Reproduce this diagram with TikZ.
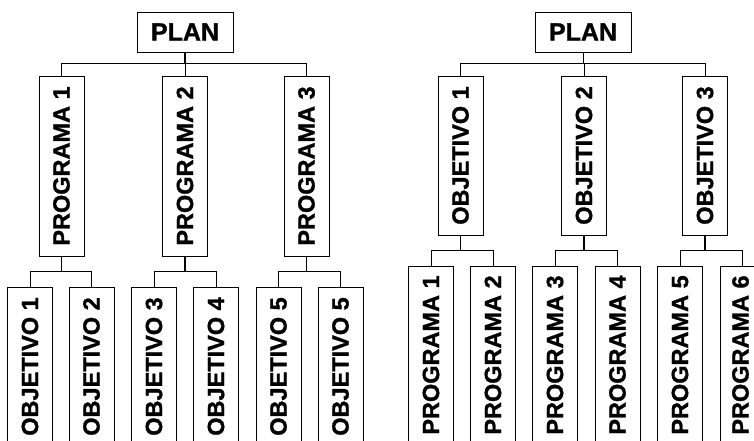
\documentclass[tikz,border=0pt]{standalone}
\usepackage{fontspec}
\setmainfont[BoldFeatures={FakeBold=1.2}]{Liberation Sans}
\begin{document}
\begin{tikzpicture}[x=1pt,y=-1pt,
  box/.style={draw=black,line width=0.8pt,inner sep=0pt,font=\fontsize{23.5}{27}\selectfont\bfseries},
  planbox/.style={box,minimum width=96pt,minimum height=40pt,font=\fontsize{25}{29}\selectfont\bfseries},
  vbox/.style={box,minimum width=45pt},
  wire/.style={line width=0.9pt},
  stem/.style={line width=1.5pt}]
\useasboundingbox (0,0) rectangle (754,441);
\clip (0,0) rectangle (754,441);
% ---------- left tree ----------
\node[planbox] (planL) at (185,32) {PLAN};
\node[vbox,minimum height=180pt] (lp1) at (61.5,166) {\rotatebox{90}{PROGRAMA 1}};
\node[vbox,minimum height=180pt] (lp2) at (185,166) {\rotatebox{90}{PROGRAMA 2}};
\node[vbox,minimum height=180pt] (lp3) at (306.5,166) {\rotatebox{90}{PROGRAMA 3}};
\node[vbox,minimum height=159pt] (lo1) at (30,366.5) {\rotatebox{90}{OBJETIVO 1}};
\node[vbox,minimum height=159pt] (lo2) at (91.5,366.5) {\rotatebox{90}{OBJETIVO 2}};
\node[vbox,minimum height=159pt] (lo3) at (154,366.5) {\rotatebox{90}{OBJETIVO 3}};
\node[vbox,minimum height=159pt] (lo4) at (216,366.5) {\rotatebox{90}{OBJETIVO 4}};
\node[vbox,minimum height=159pt] (lo5) at (278.5,366.5) {\rotatebox{90}{OBJETIVO 5}};
\node[vbox,minimum height=159pt] (lo6) at (340.5,366.5) {\rotatebox{90}{OBJETIVO 5}};
\coordinate (lbus) at (0,63);
\coordinate (lbus2) at (0,271);
\draw[stem] (planL.south) -- (planL.south |- lbus);
\draw[wire] (lp1.north) -- (lp1.north |- lbus) -- (lp3.north |- lbus) -- (lp3.north);
\draw[wire] (lp2.north) -- (lp2.north |- lbus);
\draw[stem] (lp1.south) -- (lp1.south |- lbus2);
\draw[stem] (lp2.south) -- (lp2.south |- lbus2);
\draw[stem] (lp3.south) -- (lp3.south |- lbus2);
\draw[wire] (lo1.north) -- (lo1.north |- lbus2) -- (lo2.north |- lbus2) -- (lo2.north);
\draw[wire] (lo3.north) -- (lo3.north |- lbus2) -- (lo4.north |- lbus2) -- (lo4.north);
\draw[wire] (lo5.north) -- (lo5.north |- lbus2) -- (lo6.north |- lbus2) -- (lo6.north);
% ---------- right tree ----------
\node[planbox] (planR) at (583,32) {PLAN};
\node[vbox,minimum height=159pt] (ro1) at (460.5,155.5) {\rotatebox{90}{OBJETIVO 1}};
\node[vbox,minimum height=159pt] (ro2) at (584,155.5) {\rotatebox{90}{OBJETIVO 2}};
\node[vbox,minimum height=159pt] (ro3) at (705,155.5) {\rotatebox{90}{OBJETIVO 3}};
\node[vbox,minimum height=178pt] (rp1) at (431,355) {\rotatebox{90}{PROGRAMA 1}};
\node[vbox,minimum height=178pt] (rp2) at (493,355) {\rotatebox{90}{PROGRAMA 2}};
\node[vbox,minimum height=178pt] (rp3) at (555,355) {\rotatebox{90}{PROGRAMA 3}};
\node[vbox,minimum height=178pt] (rp4) at (617.5,355) {\rotatebox{90}{PROGRAMA 4}};
\node[vbox,minimum height=178pt] (rp5) at (680,355) {\rotatebox{90}{PROGRAMA 5}};
\node[vbox,minimum height=178pt] (rp6) at (742.5,355) {\rotatebox{90}{PROGRAMA 6}\hspace*{4pt}};
\coordinate (rbus) at (0,63);
\coordinate (rbus2) at (0,250);
\draw[wire] (planR.south) -- (planR.south |- rbus);
\draw[wire] (ro1.north) -- (ro1.north |- rbus) -- (ro3.north |- rbus) -- (ro3.north);
\draw[wire] (ro2.north) -- (ro2.north |- rbus);
\draw[stem] (ro1.south) -- (ro1.south |- rbus2);
\draw[stem] (ro2.south) -- (ro2.south |- rbus2);
\draw[stem] (ro3.south) -- (ro3.south |- rbus2);
\draw[wire] (rp1.north) -- (rp1.north |- rbus2) -- (rp2.north |- rbus2) -- (rp2.north);
\draw[wire] (rp3.north) -- (rp3.north |- rbus2) -- (rp4.north |- rbus2) -- (rp4.north);
\draw[wire] (rp5.north) -- (rp5.north |- rbus2) -- (rp6.north |- rbus2) -- (rp6.north);
\end{tikzpicture}
\end{document}
